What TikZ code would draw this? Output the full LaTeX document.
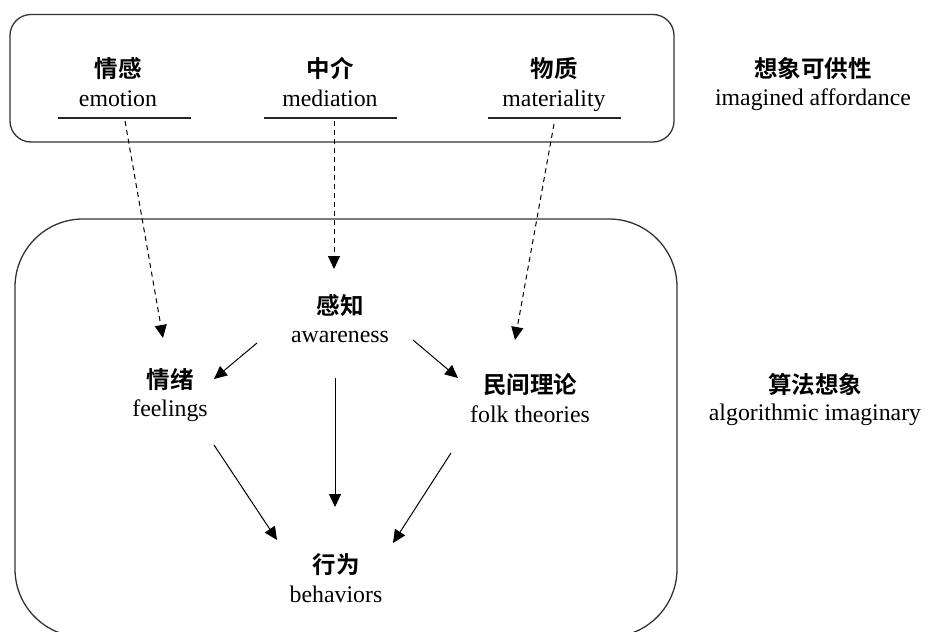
\documentclass[tikz,border=0pt]{standalone}
\usepackage{fontspec}
\setmainfont{Liberation Serif}
\newfontfamily\cjk{Noto Sans CJK SC}[BoldFont={Noto Sans CJK SC Bold}]
\usetikzlibrary{arrows.meta}
\definecolor{boxline}{HTML}{333333}
\tikzset{
  zh/.style={anchor=base, inner sep=0pt, font=\cjk\bfseries\fontsize{23.5}{28}\selectfont},
  en/.style={anchor=base, inner sep=0pt, font=\fontsize{23.8}{28}\selectfont},
  frame/.style={draw=boxline, line width=1.3pt},
  uline/.style={draw=black!85, line width=1.3pt},
  tip/.style={-{Triangle[length=13pt,width=12pt]}},
  solidarrow/.style={tip, draw=black, line width=1pt},
  dasharrow/.style={tip, draw=black, line width=1pt, dash pattern=on 5pt off 4pt},
}
\begin{document}
\begin{tikzpicture}[x=1pt,y=-1pt]
\useasboundingbox (0,0) rectangle (930,632);
\clip (0,0) rectangle (930,632);
% frames
\draw[frame, rounded corners=21pt] (10,14.5) rectangle (674,142);
\draw[frame, rounded corners=68pt] (15,219) rectangle (677,637);
% top labels
\node[zh] (zh-emo) at (118,77) {情感};
\node[en] (en-emo) at (118,106) {emotion};
\node[zh] (zh-med) at (330,77) {中介};
\node[en] (en-med) at (330,106) {mediation};
\node[zh] (zh-mat) at (554,77) {物质};
\node[en] (en-mat) at (554,106) {materiality};
\node[zh] (zh-ia) at (813,77) {想象可供性};
\node[en] (en-ia) at (813,105) {imagined affordance};
% underlines
\coordinate (u1a) at (58,118); \coordinate (u1b) at (191,118);
\coordinate (u2a) at (264,118); \coordinate (u2b) at (397,118);
\coordinate (u3a) at (488,118); \coordinate (u3b) at (621,118);
\draw[uline] (u1a) -- (u1b);
\draw[uline] (u2a) -- (u2b);
\draw[uline] (u3a) -- (u3b);
% lower labels
\node[zh] (zh-aw) at (340,314) {感知};
\node[en] (en-aw) at (340,342) {awareness};
\node[zh] (zh-fe) at (170,388) {情绪};
\node[en] (en-fe) at (170,416) {feelings};
\node[zh] (zh-ft) at (530,393) {民间理论};
\node[en] (en-ft) at (530,422) {folk theories};
\node[zh] (zh-ai) at (815,393) {算法想象};
\node[en] (en-ai) at (815,420) {algorithmic imaginary};
\node[zh] (zh-be) at (336,573) {行为};
\node[en] (en-be) at (336,602) {behaviors};
% connector end points
\coordinate (d1s) at (125,121); \coordinate (d1e) at (163,338);
\coordinate (d2s) at (334,121); \coordinate (d2e) at (334,269);
\coordinate (d3s) at (554,124); \coordinate (d3e) at (515,340);
\coordinate (a1s) at (257,343); \coordinate (a1e) at (214,379);
\coordinate (a2s) at (413,340); \coordinate (a2e) at (458,378);
\coordinate (a3s) at (335,378); \coordinate (a3e) at (335,507);
\coordinate (a4s) at (214,445); \coordinate (a4e) at (277,540);
\coordinate (a5s) at (451,453); \coordinate (a5e) at (393,543);
% dashed connectors
\draw[dasharrow] (d1s) -- (d1e);
\draw[dasharrow] (d2s) -- (d2e);
\draw[dasharrow] (d3s) -- (d3e);
% solid connectors
\draw[solidarrow] (a1s) -- (a1e);
\draw[solidarrow] (a2s) -- (a2e);
\draw[solidarrow] (a3s) -- (a3e);
\draw[solidarrow] (a4s) -- (a4e);
\draw[solidarrow] (a5s) -- (a5e);
\end{tikzpicture}
\end{document}
